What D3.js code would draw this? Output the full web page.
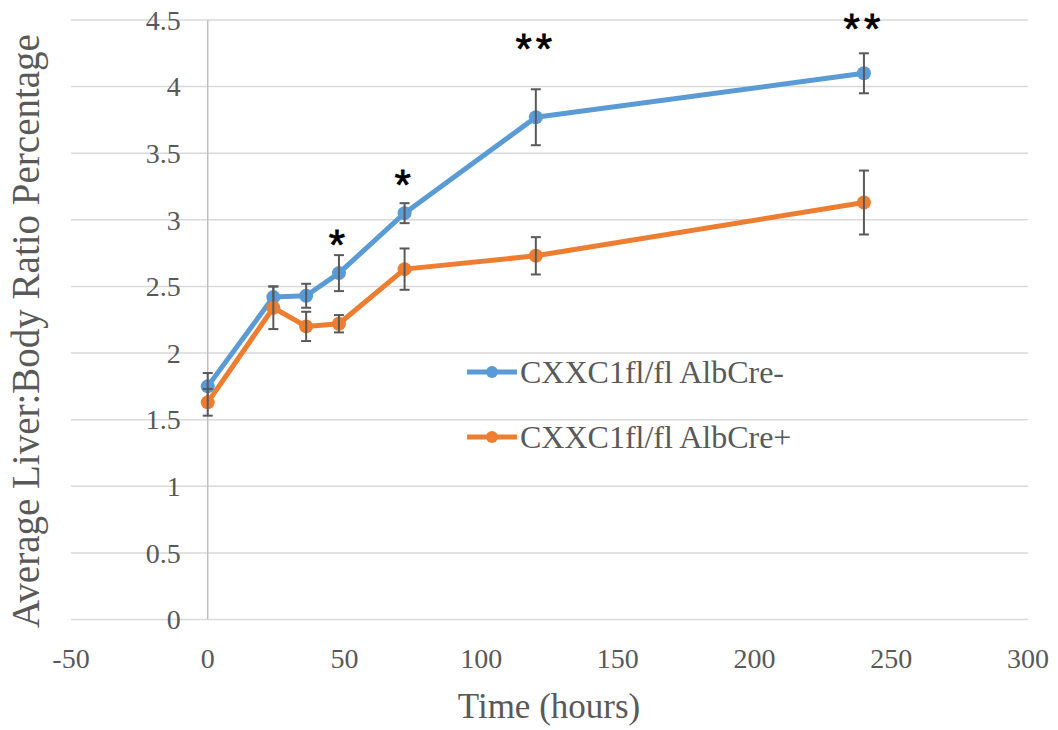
<!DOCTYPE html>
<html><head><meta charset="utf-8">
<script src="https://cdn.jsdelivr.net/npm/d3@7/dist/d3.min.js"></script>
<style>body{margin:0;background:#fff}</style></head>
<body><svg id="c" width="1058" height="730"></svg>
<script>
const hours = [0, 24, 36, 48, 72, 120, 240];
const ctrlMean = [1.75, 2.42, 2.43, 2.60, 3.05, 3.77, 4.10];
const ctrlErr  = [0.10, 0.08, 0.09, 0.135, 0.075, 0.21, 0.15];
const koMean   = [1.63, 2.34, 2.20, 2.22, 2.63, 2.73, 3.13];
const koErr    = [0.10, 0.16, 0.11, 0.065, 0.155, 0.14, 0.24];
const seriesNames = ["CXXC1fl/fl AlbCre-", "CXXC1fl/fl AlbCre+"];
const seriesColors = ["#5B9BD5", "#ED7D31"];
const xTicks = [-50, 0, 50, 100, 150, 200, 250, 300];
const yTicks = [0, 0.5, 1, 1.5, 2, 2.5, 3, 3.5, 4, 4.5];
const sigX = [48, 72, 120, 240];
const sigLabel = ["*", "*", "**", "**"];
const sigY = [2.88, 3.33, 4.35, 4.50];

const svg = d3.select("#c");
const x = d3.scaleLinear().domain([-50, 300]).range([71, 1028]);
const y = d3.scaleLinear().domain([0, 4.5]).range([619.5, 20]);
const font = "'Liberation Serif', 'Times New Roman', serif";

svg.append("g").selectAll("line").data(yTicks).join("line")
  .attr("x1", x(-50)).attr("x2", x(300))
  .attr("y1", d => y(d)).attr("y2", d => y(d))
  .attr("stroke", "#d9d9d9").attr("stroke-width", 1.5);
svg.append("line").attr("x1", x(0)).attr("x2", x(0)).attr("y1", y(4.5)).attr("y2", y(0))
  .attr("stroke", "#bfbfbf").attr("stroke-width", 1.5);

svg.append("g").selectAll("text").data(yTicks).join("text")
  .attr("x", x(0) - 27).attr("y", d => y(d)).attr("dy", "0.35em")
  .attr("text-anchor", "end").attr("font-family", font).attr("font-size", 28)
  .attr("fill", "#595959").text(d => d);
svg.append("g").selectAll("text").data(xTicks).join("text")
  .attr("x", d => x(d)).attr("y", 668)
  .attr("text-anchor", "middle").attr("font-family", font).attr("font-size", 28)
  .attr("fill", "#595959").text(d => d);

svg.append("text").attr("x", 549).attr("y", 718).attr("text-anchor", "middle")
  .attr("font-family", font).attr("font-size", 35).attr("fill", "#595959").text("Time (hours)");
svg.append("text").attr("transform", "translate(39,331) rotate(-90)").attr("text-anchor", "middle")
  .attr("font-family", font).attr("font-size", 39).attr("fill", "#595959")
  .text("Average Liver:Body Ratio Percentage");

const series = [
  {name: seriesNames[0], color: seriesColors[0], mean: ctrlMean, err: ctrlErr},
  {name: seriesNames[1], color: seriesColors[1], mean: koMean, err: koErr}
];
const line = d3.line().x(d => x(d.h)).y(d => y(d.v));

series.forEach(s => {
  const pts = hours.map((h, i) => ({h, v: s.mean[i], e: s.err[i]}));
  const g = svg.append("g");
  g.append("path").datum(pts).attr("d", line).attr("fill", "none")
    .attr("stroke", s.color).attr("stroke-width", 5).attr("stroke-linejoin", "round");
  g.selectAll("circle").data(pts).join("circle")
    .attr("cx", d => x(d.h)).attr("cy", d => y(d.v)).attr("r", 7).attr("fill", s.color);
  const eb = g.append("g").attr("stroke", "#595959").attr("stroke-width", 2);
  eb.selectAll(".v").data(pts).join("line")
    .attr("x1", d => x(d.h)).attr("x2", d => x(d.h))
    .attr("y1", d => y(d.v - d.e)).attr("y2", d => y(d.v + d.e));
  eb.selectAll(".t").data(pts).join("line")
    .attr("x1", d => x(d.h) - 5).attr("x2", d => x(d.h) + 5)
    .attr("y1", d => y(d.v + d.e)).attr("y2", d => y(d.v + d.e));
  eb.selectAll(".b").data(pts).join("line")
    .attr("x1", d => x(d.h) - 5).attr("x2", d => x(d.h) + 5)
    .attr("y1", d => y(d.v - d.e)).attr("y2", d => y(d.v - d.e));
});

svg.append("g").selectAll("text").data(sigX).join("text")
  .attr("x", d => x(d)).attr("y", (d, i) => y(sigY[i]) + 23)
  .attr("text-anchor", "middle").attr("font-family", "'Liberation Sans', Arial, sans-serif")
  .attr("font-size", 42).attr("letter-spacing", 4).attr("fill", "#000")
  .attr("stroke", "#000").attr("stroke-width", 0.8)
  .text((d, i) => sigLabel[i]);

const lg = svg.append("g");
series.forEach((s, i) => {
  const ly = 372 + i * 65;
  lg.append("line").attr("x1", 467).attr("x2", 517).attr("y1", ly).attr("y2", ly)
    .attr("stroke", s.color).attr("stroke-width", 5);
  lg.append("circle").attr("cx", 492).attr("cy", ly).attr("r", 6).attr("fill", s.color);
  lg.append("text").attr("x", 520).attr("y", ly).attr("dy", "0.35em")
    .attr("font-family", font).attr("font-size", 32).attr("fill", "#595959").text(s.name);
});
</script></body></html>
